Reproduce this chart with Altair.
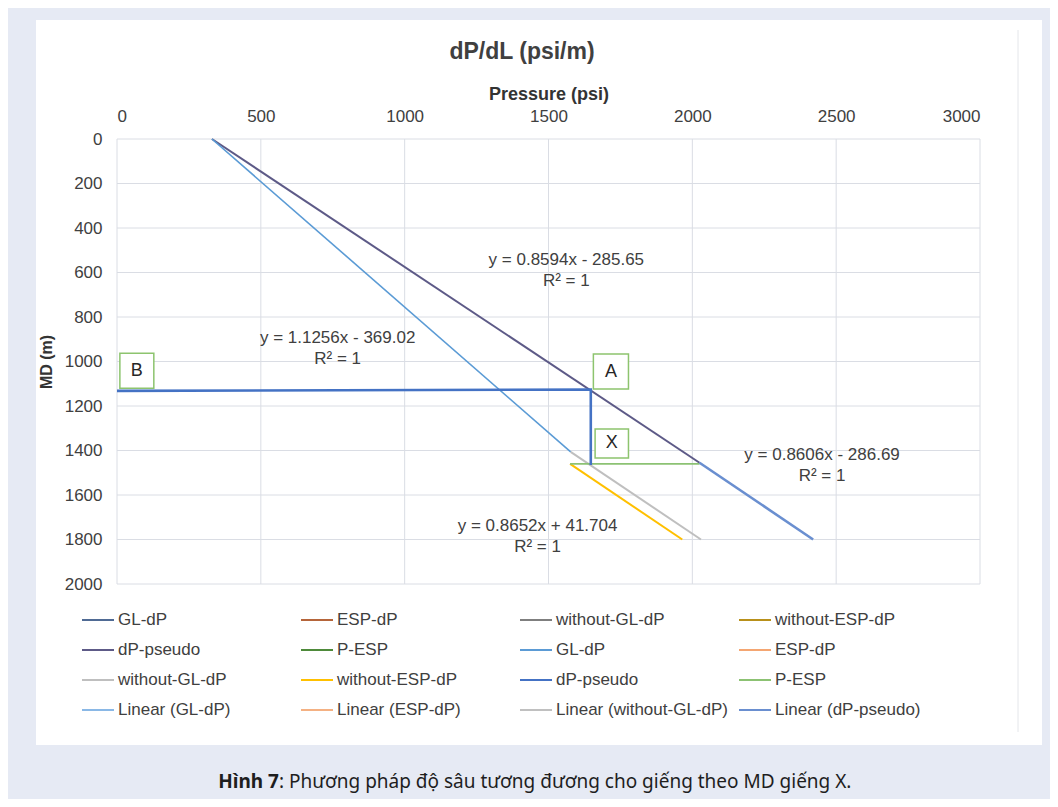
import altair as alt
import pandas as pd

FONT = "Liberation Sans"

# ---------------- data ----------------
x_ticks = [0, 500, 1000, 1500, 2000, 2500, 3000]
y_ticks = [0, 200, 400, 600, 800, 1000, 1200, 1400, 1600, 1800, 2000]

# legend entries in reading order (" #2" marks a second series with the same display name)
legend_names = [
    "GL-dP", "ESP-dP", "without-GL-dP", "without-ESP-dP",
    "dP-pseudo", "P-ESP", "GL-dP #2", "ESP-dP #2",
    "without-GL-dP #2", "without-ESP-dP #2", "dP-pseudo #2", "P-ESP #2",
    "Linear (GL-dP)", "Linear (ESP-dP)", "Linear (without-GL-dP)", "Linear (dP-pseudo)",
]
legend_colors = [
    "#4F6A94", "#B5653A", "#7F7F7F", "#B8901A",
    "#5D5A87", "#4E8A3A", "#5B9BD5", "#F4A672",
    "#BFBFBF", "#FFC000", "#4472C4", "#8CC273",
    "#8AB8E6", "#F4B183", "#C0C0C0", "#6A8FD0",
]

# plotted series: (legend key, stroke width, pressure list, MD list)
upper_p, upper_md = [330, 2025], [0, 1455]
gl_p, gl_md = [330, 1577], [0, 1406]
nogl_p, nogl_md = [1577, 2030], [1406, 1800]
noesp_p, noesp_md = [1575, 1965], [1460, 1800]
pesp_p, pesp_md = [1575, 2025], [1460, 1460]
pseudo_p, pseudo_md = [0, 1647, 1647], [1132, 1126, 1465]
linpseudo_p, linpseudo_md = [2025, 2420], [1455, 1800]

series = [
    ("dP-pseudo", 2.0, upper_p, upper_md),
    ("GL-dP #2", 1.6, gl_p, gl_md),
    ("without-GL-dP #2", 2.0, nogl_p, nogl_md),
    ("without-ESP-dP #2", 2.0, noesp_p, noesp_md),
    ("P-ESP #2", 1.6, pesp_p, pesp_md),
    ("Linear (dP-pseudo)", 2.6, linpseudo_p, linpseudo_md),
    ("dP-pseudo #2", 2.6, pseudo_p, pseudo_md),
]

# trendline equations (first-line position in data units)
eq_text = ["y = 0.8594x - 285.65\nR² = 1", "y = 1.1256x - 369.02\nR² = 1",
           "y = 0.8606x - 286.69\nR² = 1", "y = 0.8652x + 41.704\nR² = 1"]
eq_p = [1562, 767, 2451, 1462]
eq_md = [544, 894, 1420, 1739]

# labelled boxes
box_label = ["B", "A", "X"]
box_p0 = [10, 1656, 1662]
box_p1 = [128, 1778, 1778]
box_md0 = [963, 966, 1303]
box_md1 = [1120, 1124, 1434]

title_text = "dP/dL (psi/m)"
caption_bold = "Hình 7"
caption_rest = ": Phương pháp độ sâu tương đương cho giếng theo MD giếng X."

# ---------------- tables ----------------
rows = []
for sid, (key, w, ps, mds) in enumerate(series):
    for i, (p, md) in enumerate(zip(ps, mds)):
        rows.append({"sid": sid, "key": key, "w": w, "i": i, "P": p, "MD": md})
lines_df = pd.DataFrame(rows)
eq_df = pd.DataFrame({"P": eq_p, "MD": eq_md, "t": eq_text})
box_df = pd.DataFrame({"lab": box_label, "p0": box_p0, "p1": box_p1,
                       "m0": box_md0, "m1": box_md1})
box_df["pc"] = (box_df.p0 + box_df.p1) / 2
box_df["mc"] = (box_df.m0 + box_df.m1) / 2
xgrid_df = pd.DataFrame({"P": x_ticks})
ygrid_df = pd.DataFrame({"MD": y_ticks})
one = pd.DataFrame({"a": [0]})

xscale = alt.Scale(domain=[0, 3000], nice=False)
yscale = alt.Scale(domain=[0, 2000], reverse=True, nice=False)
GRID = "#DADDE4"

# white card behind the chart (decoration)
card = alt.Chart(one).mark_rect(fill="white", stroke=None).encode(
    x=alt.value(-81), x2=alt.value(925), y=alt.value(-119), y2=alt.value(606))
edge = alt.Chart(one).mark_rule(color="#E4E6EA", strokeWidth=1).encode(
    x=alt.value(901), y=alt.value(-109), y2=alt.value(593))

xgrid = alt.Chart(xgrid_df).mark_rule(color=GRID, strokeWidth=1).encode(
    x=alt.X("P:Q", scale=xscale, axis=alt.Axis(
        orient="top", values=x_ticks, format="d", title="Pressure (psi)",
        grid=False, ticks=False, domain=False, labelPadding=14, zindex=1,
        labelFontSize=17, labelFont=FONT, labelColor="#404040",
        titleFont=FONT, titleFontSize=18, titleColor="#333333",
        titleFontWeight="bold", titlePadding=4)),
    y=alt.value(0), y2=alt.value(445))
ygrid = alt.Chart(ygrid_df).mark_rule(color=GRID, strokeWidth=1).encode(
    y=alt.Y("MD:Q", scale=yscale, axis=alt.Axis(
        values=y_ticks, format="d", title="MD (m)", grid=False, zindex=1,
        ticks=False, domain=False, labelPadding=15, labelFontSize=17,
        labelFont=FONT, labelColor="#404040", titleFont=FONT,
        titleFontSize=16, titleColor="#333333", titleFontWeight="bold",
        titlePadding=10)),
    x=alt.value(0), x2=alt.value(863))

lines = alt.Chart(lines_df).mark_line(strokeCap="butt").encode(
    x=alt.X("P:Q", scale=xscale),
    y=alt.Y("MD:Q", scale=yscale),
    color=alt.Color("key:N", scale=alt.Scale(domain=legend_names, range=legend_colors),
                    legend=alt.Legend(
                        title=None, orient="none", legendX=-36, legendY=464,
                        direction="horizontal",
                        columns=4, symbolType="stroke", symbolSize=1024,
                        symbolStrokeWidth=2, labelFontSize=17, labelFont=FONT,
                        labelColor="#404040", columnPadding=7, rowPadding=5,
                        gridAlign="all", labelOffset=3, labelLimit=300,
                        labelExpr="replace(datum.label, ' #2', '')")),
    strokeWidth=alt.StrokeWidth("w:Q", scale=None, legend=None),
    detail="sid:N",
    order="i:Q",
)

eqs = alt.Chart(eq_df).mark_text(lineBreak="\n", fontSize=17, font=FONT,
                                 color="#404040", align="center",
                                 baseline="middle", lineHeight=21).encode(
    x=alt.X("P:Q", scale=xscale), y=alt.Y("MD:Q", scale=yscale), text="t:N")

boxes = alt.Chart(box_df).mark_rect(fill="white", stroke="#8DC46E",
                                    strokeWidth=1.5).encode(
    x=alt.X("p0:Q", scale=xscale), x2="p1:Q",
    y=alt.Y("m0:Q", scale=yscale), y2="m1:Q")
box_text = alt.Chart(box_df).mark_text(fontSize=18, font=FONT, color="#262626",
                                       baseline="middle").encode(
    x=alt.X("pc:Q", scale=xscale), y=alt.Y("mc:Q", scale=yscale), text="lab:N")

title = alt.Chart(one).mark_text(text=title_text, font=FONT, fontSize=23,
                                 fontWeight="bold", align="center",
                                 baseline="middle", color="#404040").encode(
    x=alt.value(405), y=alt.value(-87))
cap1 = alt.Chart(one).mark_text(text=caption_bold, font="Noto Sans", fontSize=19,
                                fontWeight="bold", align="right",
                                baseline="middle", color="#1E1E1E").encode(
    x=alt.value(162), y=alt.value(643))
cap2 = alt.Chart(one).mark_text(text=caption_rest, font="Noto Sans", fontSize=19,
                                align="left", baseline="middle",
                                color="#1E1E1E").encode(
    x=alt.value(162), y=alt.value(643))

chart = alt.layer(card, edge, xgrid, ygrid, lines, boxes, box_text, eqs,
                  title, cap1, cap2).properties(
    width=863, height=445,
    padding={"left": 109, "top": 131, "right": 70, "bottom": 215},
    autosize=alt.AutoSizeParams(type="none"),
    background="#E6EAF4",
).configure_view(stroke=None)

chart.save("out.html", embed_options={"renderer": "svg", "actions": False})
